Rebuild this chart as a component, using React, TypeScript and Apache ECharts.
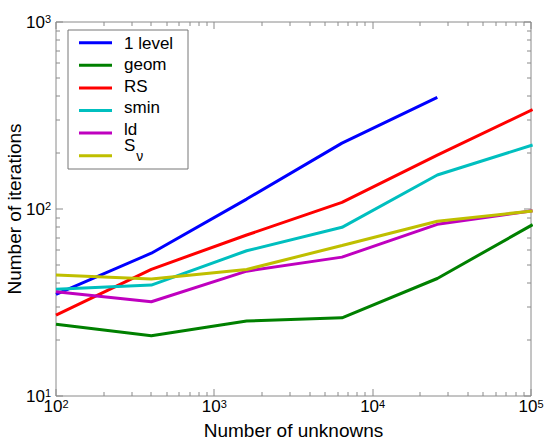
import React, { useEffect, useRef } from 'react';
import * as echarts from 'echarts';

const unknowns = [100, 400, 1600, 6400, 25600, 102400];
const oneLevel = [35, 58, 113, 225, 395];
const geom = [24.2, 21.0, 25.2, 26.2, 42.5, 82.5];
const rs = [27.1, 47.6, 72.6, 108.5, 194, 340];
const smin = [37.2, 39.2, 59.8, 79.8, 152, 220];
const ld = [36.1, 31.9, 46.5, 55.3, 82.8, 98];
const snu = [44.4, 42.2, 47.5, 63.8, 86, 97.6];

const seriesNames = ['1 level', 'geom', 'RS', 'smin', 'ld', 'Sν'];
const seriesColors = ['#0000ff', '#008000', '#ff0000', '#00bfbf', '#bf00bf', '#bfbf00'];
const seriesValues = [oneLevel, geom, rs, smin, ld, snu];

const xMajor = [100, 1000, 10000, 100000];
const xMinor = [200, 300, 400, 500, 600, 700, 800, 900, 2000, 3000, 4000, 5000, 6000, 7000, 8000, 9000, 20000, 30000, 40000, 50000, 60000, 70000, 80000, 90000];
const yMajor = [10, 100, 1000];
const yMinor = [20, 30, 40, 50, 60, 70, 80, 90, 200, 300, 400, 500, 600, 700, 800, 900];

const FONT = 'Liberation Sans, Arial, sans-serif';
const FRAME = '#8a8a8a';

const labelRich = {
  b: { fontSize: 17, lineHeight: 17, padding: [5, 0, 0, 0], verticalAlign: 'bottom', color: '#000', fontFamily: FONT },
  s: { fontSize: 11, lineHeight: 11, verticalAlign: 'top', color: '#000', fontFamily: FONT },
};
const fmt = (v: number) => `{b|10}{s|${Math.round(Math.log10(v))}}`;

export default function App() {
  const ref = useRef<HTMLDivElement>(null);
  useEffect(() => {
    if (!ref.current) return;
    const chart = echarts.init(ref.current, undefined, { renderer: 'svg' });

    chart.setOption({
      animation: false,
      backgroundColor: '#fff',
      textStyle: { fontFamily: FONT },
      grid: {
        left: 56, right: 14, top: 22, bottom: 45,
        containLabel: false, outerBoundsMode: 'none',
        show: true, borderColor: FRAME, borderWidth: 1, backgroundColor: 'transparent',
      },
      xAxis: {
        type: 'log', logBase: 10, min: 100, max: 100000,
        name: 'Number of unknowns', nameLocation: 'middle', nameGap: 25,
        nameTextStyle: { fontSize: 19, color: '#000', fontFamily: FONT },
        axisLine: { show: false }, axisTick: { show: false }, splitLine: { show: false },
        axisLabel: { show: true, fontSize: 17, fontFamily: FONT, color: '#000', customValues: xMajor, formatter: fmt, margin: 2, hideOverlap: false, rich: labelRich },
      },
      yAxis: {
        type: 'log', logBase: 10, min: 10, max: 1000,
        name: 'Number of iterations', nameLocation: 'middle', nameGap: 32, nameMoveOverlap: false,
        nameTextStyle: { fontSize: 19, color: '#000', fontFamily: FONT },
        axisLine: { show: false }, axisTick: { show: false }, splitLine: { show: false },
        axisLabel: { show: true, fontSize: 17, fontFamily: FONT, color: '#000', customValues: yMajor, formatter: fmt, margin: 5, align: 'right', hideOverlap: false, rich: labelRich },
      },
      series: seriesNames.map((name, i) => ({
        name, type: 'line', symbol: 'none', showSymbol: false, clip: true,
        color: seriesColors[i], lineStyle: { width: 3, color: seriesColors[i] },
        data: seriesValues[i].map((v, j) => [unknowns[j], v]),
      })),
    });

    // Inside tick marks on all four sides, placed through the axes' own scales
    const px = (v: number) => chart.convertToPixel({ xAxisIndex: 0 }, v) as number;
    const py = (v: number) => chart.convertToPixel({ yAxisIndex: 0 }, v) as number;
    const left = px(100), right = px(100000), bottom = py(10), top = py(1000);
    const g: any[] = [];
    const tick = (x1: number, y1: number, x2: number, y2: number) =>
      g.push({ type: 'line', shape: { x1, y1, x2, y2 }, style: { stroke: FRAME, lineWidth: 1 } });
    const addX = (v: number, len: number) => {
      const x = Math.round(px(v));
      tick(x, bottom, x, bottom - len);
      tick(x, top, x, top + len);
    };
    const addY = (v: number, len: number) => {
      const y = Math.round(py(v));
      tick(left, y, left + len, y);
      tick(right, y, right - len, y);
    };
    xMajor.forEach((v) => addX(v, 7));
    xMinor.forEach((v) => addX(v, 4));
    yMajor.forEach((v) => addY(v, 7));
    yMinor.forEach((v) => addY(v, 4));

    // Legend
    g.push({ type: 'rect', shape: { x: 68, y: 30, width: 120, height: 139 }, style: { fill: 'none', stroke: '#777777', lineWidth: 1 } });
    seriesNames.forEach((name, i) => {
      const y = 42.7 + i * 22.6;
      g.push({ type: 'line', shape: { x1: 79, y1: y, x2: 112, y2: y }, style: { stroke: seriesColors[i], lineWidth: 3 } });
      if (name === 'Sν') {
        g.push({
          type: 'text', x: 124, y: y - 18.4,
          style: {
            text: '{a|S}{b|ν}', verticalAlign: 'top', fill: '#000',
            rich: {
              a: { fontSize: 17, lineHeight: 17, verticalAlign: 'top', fontFamily: FONT, fill: '#000' },
              b: { fontSize: 14, lineHeight: 14, padding: [12, 0, 0, 1], verticalAlign: 'top', fontFamily: FONT, fill: '#000' },
            },
          },
        });
      } else {
        g.push({ type: 'text', x: 124, y: 43.3 + i * 21.5, style: { text: name, fontSize: 17, fontFamily: FONT, fill: '#000', verticalAlign: 'middle' } });
      }
    });
    chart.setOption({ graphic: { elements: g } });

    return () => chart.dispose();
  }, []);

  return <div ref={ref} style={{ position: 'fixed', left: 0, top: 0, width: 545, height: 441 }} />;
}
